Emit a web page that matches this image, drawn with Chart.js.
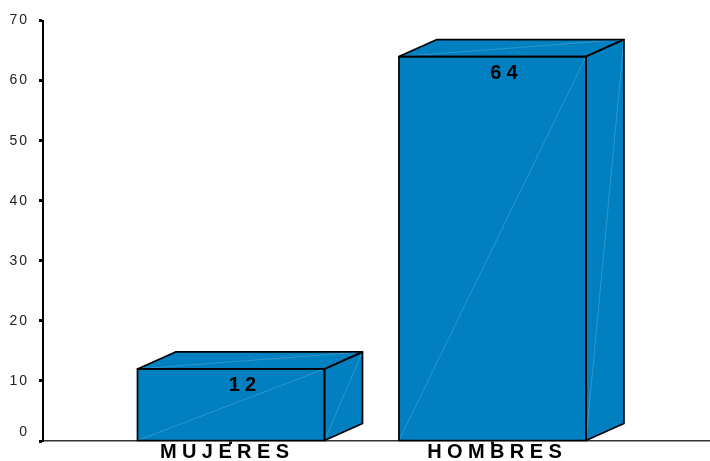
<!DOCTYPE html>
<html lang="es">
<head>
<meta charset="utf-8">
<title>Mujeres y hombres</title>
<script src="https://cdn.jsdelivr.net/npm/chart.js@4/dist/chart.umd.min.js"></script>
<style>
  html, body { margin: 0; padding: 0; background: #fff; }
  canvas { display: block; }
</style>
</head>
<body>
<canvas id="boxChart" width="710" height="461"></canvas>
<script>
const categories = ['MUJERES', 'HOMBRES'];
const categoryPositions = [1, 2];
const personCounts = [12, 64];
const yTicks = [0, 10, 20, 30, 40, 50, 60, 70];

const FONT = '"Liberation Sans", Arial, sans-serif';
const BLUE = '#0080c0';
const SHEEN = '#4ea6d6';

// Depth of the fake 3D box, in pixels
const DEPTH_X = 38;
const DEPTH_Y = 17;

// Horizontal nudge of each category label from its tick
const labelNudge = [-6.5, 2];

function polygon(ctx, points) {
  ctx.beginPath();
  points.forEach((p, i) => i ? ctx.lineTo(p[0], p[1]) : ctx.moveTo(p[0], p[1]));
  ctx.closePath();
}

function sheenLine(ctx, from, to) {
  ctx.strokeStyle = SHEEN;
  ctx.lineWidth = 0.6;
  ctx.beginPath();
  ctx.moveTo(from[0], from[1]);
  ctx.lineTo(to[0], to[1]);
  ctx.stroke();
}

// Turns each flat bar into a box: top and side faces, outlines, value label
const boxBars = {
  id: 'boxBars',
  beforeDraw(chart) {
    chart.ctx.letterSpacing = '2px';
  },
  afterDatasetsDraw(chart) {
    const ctx = chart.ctx;
    ctx.save();
    chart.getDatasetMeta(0).data.forEach((bar, i) => {
      const left = bar.x - bar.width / 2;
      const right = bar.x + bar.width / 2;
      const top = bar.y;
      const bottom = bar.base;

      const front = [[left, top], [right, top], [right, bottom], [left, bottom]];
      const roof = [[left, top], [left + DEPTH_X, top - DEPTH_Y], [right + DEPTH_X, top - DEPTH_Y], [right, top]];
      const side = [[right, top], [right + DEPTH_X, top - DEPTH_Y], [right + DEPTH_X, bottom - DEPTH_Y], [right, bottom]];

      ctx.fillStyle = BLUE;
      polygon(ctx, roof);
      ctx.fill();
      polygon(ctx, side);
      ctx.fill();

      sheenLine(ctx, [left, bottom], [right, top]);
      sheenLine(ctx, [left, top], [right + DEPTH_X, top - DEPTH_Y]);
      sheenLine(ctx, [right, bottom], [right + DEPTH_X, top - DEPTH_Y]);

      ctx.strokeStyle = '#000';
      ctx.lineWidth = 1.7;
      ctx.lineJoin = 'round';
      [front, roof, side].forEach(face => {
        polygon(ctx, face);
        ctx.stroke();
      });

      // Value label, inside the front face
      ctx.fillStyle = '#000';
      ctx.font = 'bold 20px ' + FONT;
      ctx.letterSpacing = '5px';
      ctx.textAlign = 'center';
      ctx.textBaseline = 'middle';
      ctx.fillText(String(personCounts[i]), bar.x + 14, top + 17);
    });

    // Category labels under the axis
    const xScale = chart.scales.x;
    ctx.fillStyle = '#000';
    ctx.font = 'bold 20px ' + FONT;
    ctx.letterSpacing = '5.4px';
    ctx.textAlign = 'center';
    ctx.textBaseline = 'middle';
    categories.forEach((name, i) => {
      const x = xScale.getPixelForValue(categoryPositions[i]);
      ctx.fillText(name, x + labelNudge[i] + 2.7, 452.5);
    });
    ctx.restore();
  }
};

const ctx = document.getElementById('boxChart').getContext('2d');
new Chart(ctx, {
  type: 'bar',
  data: {
    datasets: [{
      data: personCounts.map((v, i) => ({ x: categoryPositions[i], y: v })),
      backgroundColor: BLUE,
      borderWidth: 0,
      barThickness: 187
    }]
  },
  plugins: [boxBars],
  options: {
    responsive: false,
    animation: false,
    layout: { padding: { top: 20.5, right: 0, bottom: 0, left: 0 } },
    plugins: {
      legend: { display: false },
      title: { display: false },
      tooltip: { enabled: false }
    },
    scales: {
      x: {
        type: 'linear',
        offset: false,
        min: 0.281,
        max: 2.832,
        afterBuildTicks: scale => {
          scale.ticks = categoryPositions.map(value => ({ value }));
        },
        afterFit: scale => { scale.height = 20; },
        ticks: { display: false },
        grid: {
          offset: false,
          drawOnChartArea: false,
          tickLength: 3,
          tickWidth: 3,
          tickColor: '#111'
        },
        border: { color: '#333', width: 1.5 }
      },
      y: {
        min: 0,
        max: 70,
        afterBuildTicks: scale => {
          scale.ticks = yTicks.map(value => ({ value }));
        },
        afterFit: scale => {
          scale.width = 43;
          scale.paddingBottom = 0;
        },
        ticks: {
          color: '#222',
          padding: 10,
          font: { family: FONT, size: 14 },
          // The zero sits above its tick: an empty second line lifts it
          callback: value => value === 0 ? ['0', ''] : String(value)
        },
        grid: {
          drawOnChartArea: false,
          tickLength: 4,
          tickWidth: 3,
          tickColor: '#000'
        },
        border: { color: '#000', width: 2 }
      }
    }
  }
});
</script>
</body>
</html>
